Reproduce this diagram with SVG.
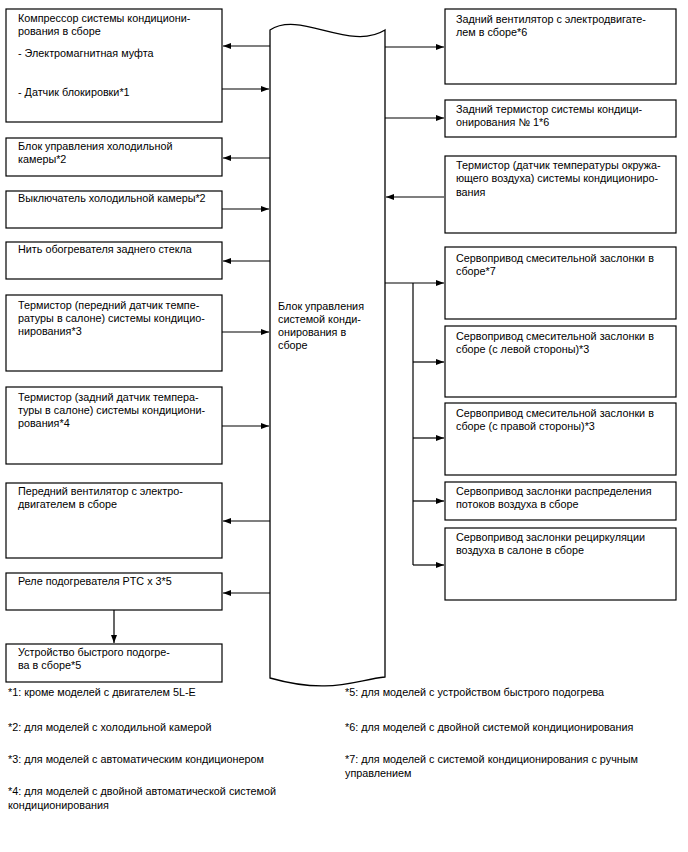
<svg xmlns="http://www.w3.org/2000/svg" width="688" height="852" viewBox="0 0 688 852">
<style>
.box{fill:#fff;stroke:#000;stroke-width:1.2}
.ctr{fill:#fff;stroke:#000;stroke-width:1.3}
.t{font-family:"Liberation Sans",Arial,sans-serif;font-size:10.8px;fill:#000}
.c line,.c path{stroke:#000;stroke-width:1.2;fill:none}
</style>
<defs>
<marker id="ah" markerUnits="userSpaceOnUse" markerWidth="8" markerHeight="8" viewBox="0 0 8 8" refX="8" refY="4" orient="auto">
<path d="M0,1 L8,4 L0,7 Z" fill="#000"/>
</marker>
</defs>
<rect width="688" height="852" fill="#fff"/>

<g id="center">
<path class="ctr" d="M270,30 C300,10 350,52 385,30 L385,677 C355,680 330,695 270,678 Z"/>
</g>

<g id="connectors" class="c">
<line x1="270" y1="46" x2="223" y2="46" marker-end="url(#ah)"/>
<line x1="222" y1="89" x2="269" y2="89" marker-end="url(#ah)"/>
<line x1="270" y1="158" x2="223" y2="158" marker-end="url(#ah)"/>
<line x1="222" y1="209" x2="269" y2="209" marker-end="url(#ah)"/>
<line x1="270" y1="261" x2="223" y2="261" marker-end="url(#ah)"/>
<line x1="222" y1="332" x2="269" y2="332" marker-end="url(#ah)"/>
<line x1="222" y1="426" x2="269" y2="426" marker-end="url(#ah)"/>
<line x1="270" y1="521" x2="223" y2="521" marker-end="url(#ah)"/>
<line x1="270" y1="593" x2="223" y2="593" marker-end="url(#ah)"/>
<line x1="114" y1="610" x2="114" y2="643" marker-end="url(#ah)"/>
<line x1="385" y1="47" x2="444" y2="47" marker-end="url(#ah)"/>
<line x1="385" y1="118" x2="444" y2="118" marker-end="url(#ah)"/>
<line x1="444" y1="197" x2="386" y2="197" marker-end="url(#ah)"/>
<line x1="385" y1="283" x2="444" y2="283" marker-end="url(#ah)"/>
<line x1="413" y1="283" x2="413" y2="565"/>
<line x1="413" y1="362" x2="444" y2="362" marker-end="url(#ah)"/>
<line x1="413" y1="438" x2="444" y2="438" marker-end="url(#ah)"/>
<line x1="413" y1="501" x2="444" y2="501" marker-end="url(#ah)"/>
<line x1="413" y1="565" x2="444" y2="565" marker-end="url(#ah)"/>
</g>

<g id="ctr-label">
<text class="t" x="278" y="310">Блок управления</text>
<text class="t" x="278" y="323">системой конди-</text>
<text class="t" x="278" y="336">онирования в</text>
<text class="t" x="278" y="349">сборе</text>
</g>

<g id="n1"><rect class="box" x="6" y="9" width="216" height="113"/>
<text class="t" x="18" y="22">Компрессор системы кондициони-</text>
<text class="t" x="18" y="35">рования в сборе</text>
<text class="t" x="18" y="57">- Электромагнитная муфта</text>
<text class="t" x="18" y="96">- Датчик блокировки*1</text></g>

<g id="n2"><rect class="box" x="6" y="138" width="216" height="38"/>
<text class="t" x="18" y="150">Блок управления холодильной</text>
<text class="t" x="18" y="163">камеры*2</text></g>

<g id="n3"><rect class="box" x="6" y="191" width="216" height="37"/>
<text class="t" x="18" y="202">Выключатель холодильной камеры*2</text></g>

<g id="n4"><rect class="box" x="6" y="242" width="216" height="37"/>
<text class="t" x="18" y="253">Нить обогревателя заднего стекла</text></g>

<g id="n5"><rect class="box" x="6" y="295" width="216" height="76"/>
<text class="t" x="18" y="309">Термистор (передний датчик темпе-</text>
<text class="t" x="18" y="322">ратуры в салоне) системы кондицио-</text>
<text class="t" x="18" y="335">нирования*3</text></g>

<g id="n6"><rect class="box" x="6" y="387" width="216" height="77"/>
<text class="t" x="18" y="401">Термистор (задний датчик темпера-</text>
<text class="t" x="18" y="414">туры в салоне) системы кондициони-</text>
<text class="t" x="18" y="427">рования*4</text></g>

<g id="n7"><rect class="box" x="6" y="483" width="216" height="75"/>
<text class="t" x="18" y="495">Передний вентилятор с электро-</text>
<text class="t" x="18" y="508">двигателем в сборе</text></g>

<g id="n8"><rect class="box" x="6" y="573" width="216" height="37"/>
<text class="t" x="18" y="585">Реле подогревателя PTC x 3*5</text></g>

<g id="n9"><rect class="box" x="6" y="644" width="216" height="38"/>
<text class="t" x="18" y="656">Устройство быстрого подогре-</text>
<text class="t" x="18" y="669">ва в сборе*5</text></g>

<g id="r1"><rect class="box" x="445" y="9" width="231" height="75"/>
<text class="t" x="456" y="23">Задний вентилятор с электродвигате-</text>
<text class="t" x="456" y="36">лем в сборе*6</text></g>

<g id="r2"><rect class="box" x="445" y="100" width="231" height="37"/>
<text class="t" x="456" y="113">Задний термистор системы кондици-</text>
<text class="t" x="456" y="126">онирования № 1*6</text></g>

<g id="r3"><rect class="box" x="445" y="156" width="231" height="77"/>
<text class="t" x="456" y="169">Термистор (датчик температуры окружа-</text>
<text class="t" x="456" y="182">ющего воздуха) системы кондициониро-</text>
<text class="t" x="456" y="196">вания</text></g>

<g id="r4"><rect class="box" x="445" y="247" width="231" height="72"/>
<text class="t" x="456" y="262">Сервопривод смесительной заслонки в</text>
<text class="t" x="456" y="275">сборе*7</text></g>

<g id="r5"><rect class="box" x="445" y="326" width="231" height="71"/>
<text class="t" x="456" y="340">Сервопривод смесительной заслонки в</text>
<text class="t" x="456" y="353">сборе (с левой стороны)*3</text></g>

<g id="r6"><rect class="box" x="445" y="403" width="231" height="72"/>
<text class="t" x="456" y="417">Сервопривод смесительной заслонки в</text>
<text class="t" x="456" y="430">сборе (с правой стороны)*3</text></g>

<g id="r7"><rect class="box" x="445" y="482" width="231" height="38"/>
<text class="t" x="456" y="495">Сервопривод заслонки распределения</text>
<text class="t" x="456" y="508">потоков воздуха в сборе</text></g>

<g id="r8"><rect class="box" x="445" y="528" width="231" height="72"/>
<text class="t" x="456" y="541">Сервопривод заслонки рециркуляции</text>
<text class="t" x="456" y="554">воздуха в салоне в сборе</text></g>

<g id="notes">
<text class="t" x="8" y="696">*1: кроме моделей с двигателем 5L-E</text>
<text class="t" x="8" y="731">*2: для моделей с холодильной камерой</text>
<text class="t" x="8" y="763">*3: для моделей с автоматическим кондиционером</text>
<text class="t" x="8" y="795">*4: для моделей с двойной автоматической системой</text>
<text class="t" x="8" y="809">кондиционирования</text>
<text class="t" x="345" y="696">*5: для моделей с устройством быстрого подогрева</text>
<text class="t" x="345" y="731">*6: для моделей с двойной системой кондиционирования</text>
<text class="t" x="345" y="763">*7: для моделей с системой кондиционирования с ручным</text>
<text class="t" x="345" y="777">управлением</text>
</g>
</svg>
